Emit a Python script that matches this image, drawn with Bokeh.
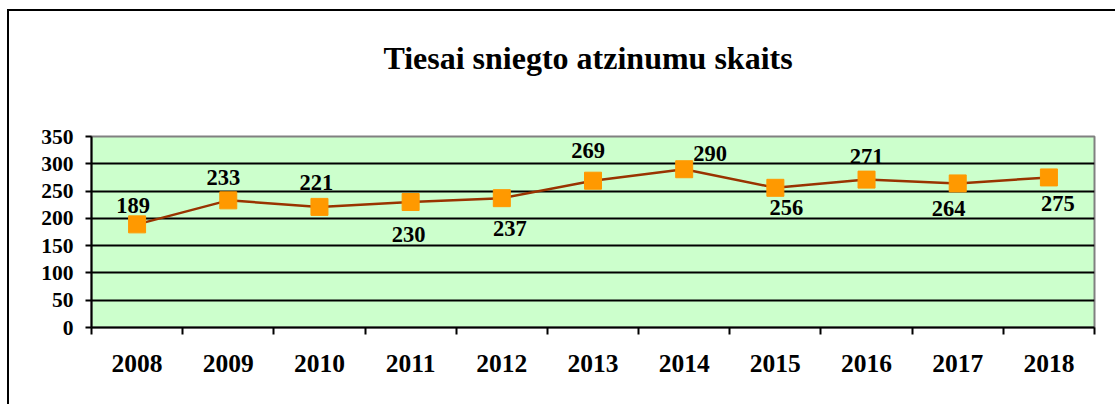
from bokeh.plotting import figure
from bokeh.models import Range1d, FixedTicker, ColumnDataSource, Title
from bokeh.core.properties import value
from bokeh.embed import file_html
from bokeh.resources import INLINE

# ---- data ----
years = ["2008", "2009", "2010", "2011", "2012", "2013", "2014", "2015", "2016", "2017", "2018"]
counts = [189, 233, 221, 230, 237, 269, 290, 256, 271, 264, 275]
y_ticks = [0, 50, 100, 150, 200, 250, 300, 350]
title_text = "Tiesai sniegto atzinumu skaits"

# label placement (screen px offsets relative to each point)
label_dx = [-4, -5, -3, -2, 8, -5, 26, 11, 0, -9, 9]
label_dy = [-19, -23, -24, 33, 30, -30, -16, 20, -23, 25, 26]

FONT = "Liberation Serif"

xs = [i + 0.5 for i in range(len(years))]
src = ColumnDataSource(dict(x=xs, y=counts, t=[str(c) for c in counts], dx=label_dx, dy=label_dy))

p = figure(width=1108, height=395, output_backend="svg", toolbar_location=None,
           x_range=Range1d(0, len(years)), y_range=Range1d(0, 350),
           min_border_left=82, min_border_right=23, min_border_top=125, min_border_bottom=79)
p.styles = {"margin-left": "7px", "margin-top": "9px",
            "border-top": "2px solid black", "border-left": "2px solid black"}

t = Title(text=title_text, align="center", text_font=FONT, text_font_size="32px",
          text_font_style="bold", text_color="black", standoff=10,
          padding=dict(left=0, right=10, top=0, bottom=56))
p.add_layout(t, "above")

p.background_fill_color = "#CCFFCC"
p.border_fill_color = "white"
p.outline_line_color = "#808080"
p.outline_line_width = 2

# grid
p.xgrid.visible = False
p.ygrid.ticker = FixedTicker(ticks=y_ticks)
p.ygrid.grid_line_color = "black"
p.ygrid.grid_line_width = 2

# y axis
p.yaxis.ticker = FixedTicker(ticks=y_ticks)
p.yaxis.axis_line_color = "black"
p.yaxis.axis_line_width = 2
p.yaxis.major_tick_line_width = 2
p.yaxis.major_tick_out = 6
p.yaxis.major_tick_in = 0
p.yaxis.minor_tick_line_color = None
p.yaxis.major_label_text_font = FONT
p.yaxis.major_label_text_font_style = "bold"
p.yaxis.major_label_text_font_size = "21.5px"
p.yaxis.major_label_text_color = "black"
p.yaxis.major_label_standoff = 12

# x axis: labels at category centres, ticks at boundaries
p.xaxis.ticker = FixedTicker(ticks=xs, minor_ticks=list(range(len(years) + 1)))
p.xaxis.major_label_overrides = {x: y for x, y in zip(xs, years)}
p.xaxis.axis_line_color = "black"
p.xaxis.axis_line_width = 2
p.xaxis.major_tick_line_color = None
p.xaxis.major_tick_out = 0
p.xaxis.major_tick_in = 0
p.xaxis.minor_tick_line_color = "black"
p.xaxis.minor_tick_line_width = 2
p.xaxis.minor_tick_out = 7
p.xaxis.minor_tick_in = 0
p.xaxis.major_label_text_font = FONT
p.xaxis.major_label_text_font_style = "bold"
p.xaxis.major_label_text_font_size = "25.5px"
p.xaxis.major_label_text_color = "black"
p.xaxis.major_label_standoff = 20

# series
p.line("x", "y", source=src, line_color="#993300", line_width=2.5)
p.scatter("x", "y", source=src, marker="square", size=17, fill_color="#FF9900", line_color="#FF9900")
p.text("x", "y", text="t", source=src, x_offset="dx", y_offset="dy",
       text_font=value(FONT), text_font_style="bold", text_font_size="22.5px",
       text_color="black", text_align="center", text_baseline="middle")

open("out.html", "w").write(file_html(p, INLINE))
